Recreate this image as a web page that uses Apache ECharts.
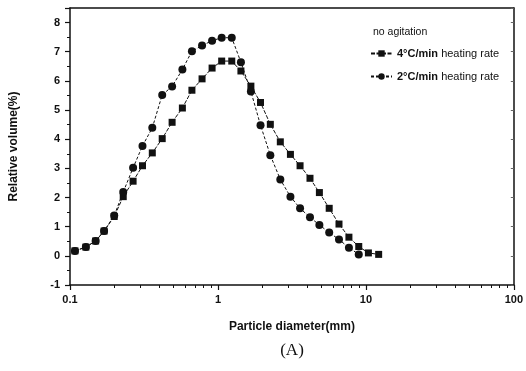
<!DOCTYPE html>
<html>
<head>
<meta charset="utf-8">
<script src="https://cdn.jsdelivr.net/npm/echarts@6/dist/echarts.min.js"></script>
<style>
  html, body { margin: 0; padding: 0; background: #fff; }
  #chart { width: 526px; height: 371px; }
</style>
</head>
<body>
<div id="chart"></div>
<script>
// particle diameter (mm), shared by both runs
const diameters = [0.108, 0.128, 0.149, 0.170, 0.199, 0.229, 0.267, 0.309, 0.360, 0.420,
  0.490, 0.575, 0.667, 0.781, 0.913, 1.06, 1.24, 1.43, 1.67, 1.94,
  2.26, 2.64, 3.09, 3.59, 4.19, 4.85, 5.65, 6.58, 7.68, 8.95, 10.4, 12.2]

// relative volume (%)
const rate4 = [0.17, 0.30, 0.51, 0.85, 1.35, 2.03, 2.56, 3.09, 3.53, 4.02,
  4.58, 5.07, 5.68, 6.07, 6.44, 6.68, 6.68, 6.34, 5.82, 5.26,
  4.51, 3.91, 3.48, 3.09, 2.66, 2.17, 1.63, 1.09, 0.64, 0.32, 0.10, 0.05]
const rate2 = [0.17, 0.30, 0.51, 0.85, 1.38, 2.19, 3.02, 3.77, 4.39, 5.52,
  5.81, 6.39, 7.02, 7.21, 7.38, 7.48, 7.48, 6.64, 5.64, 4.48,
  3.45, 2.62, 2.03, 1.63, 1.32, 1.06, 0.80, 0.56, 0.28, 0.05]

const seriesNames = ['4°C/min heating rate', '2°C/min heating rate']
const xMajorTicks = [0.1, 1, 10, 100]
const xMinorTicks = [0.2, 0.3, 0.4, 0.5, 0.6, 0.7, 0.8, 0.9,
  2, 3, 4, 5, 6, 7, 8, 9, 20, 30, 40, 50, 60, 70, 80, 90]

const pairs = (xs, ys) => ys.map((y, i) => [xs[i], y])

const font = 'Liberation Sans, Arial, sans-serif'
const ink = '#111'

const chart = echarts.init(document.getElementById('chart'))

chart.setOption({
  animation: false,
  backgroundColor: '#fff',
  textStyle: { fontFamily: font, color: ink },
  title: [
    {
      text: 'no agitation', left: 373, top: 27, padding: 0,
      textStyle: { fontSize: 10.5, fontWeight: 'normal', color: ink, fontFamily: font }
    },
    {
      text: '(A)', left: 292, top: 342, textAlign: 'center', padding: 0,
      textStyle: { fontSize: 17, fontWeight: 'normal', color: ink, fontFamily: 'Liberation Serif, DejaVu Serif, serif' }
    }
  ],
  legend: {
    orient: 'vertical',
    left: 370, top: 48, padding: 0,
    itemWidth: 21, itemHeight: 8, itemGap: 12,
    data: seriesNames,
    formatter: (name) => {
      const [rate, ...rest] = name.split(' ')
      return `{b|${rate}} ${rest.join(' ')}`
    },
    textStyle: {
      fontSize: 11, color: ink, fontFamily: font,
      rich: { b: { fontSize: 11, fontWeight: 'bold', color: ink, fontFamily: font } }
    }
  },
  grid: { left: 68, right: 10, top: 8, bottom: 86, containLabel: false },
  xAxis: [
    {
      type: 'log', logBase: 10, min: 0.1, max: 100,
      name: 'Particle diameter(mm)',
      nameLocation: 'middle', nameGap: 36,
      nameTextStyle: { fontSize: 12, fontWeight: 'bold', color: ink, fontFamily: font },
      axisLine: { onZero: false, lineStyle: { color: ink, width: 1.5 } },
      axisTick: { show: true, inside: false, length: 5, lineStyle: { color: ink, width: 1.2 }, customValues: xMajorTicks },
      axisLabel: { fontSize: 11, fontWeight: 'bold', color: ink, margin: 9, customValues: xMajorTicks,
        formatter: (v) => String(v) },
      splitLine: { show: false }
    },
    {
      // minor log ticks on the bottom edge
      type: 'log', logBase: 10, min: 0.1, max: 100, position: 'bottom',
      axisLine: { show: false, onZero: false },
      axisTick: { show: true, inside: false, length: 3, lineStyle: { color: ink, width: 1 }, customValues: xMinorTicks },
      axisLabel: { show: false },
      splitLine: { show: false }
    },
    {
      // top frame
      type: 'log', logBase: 10, min: 0.1, max: 100, position: 'top',
      axisLine: { show: true, onZero: false, lineStyle: { color: ink, width: 1.5 } },
      axisTick: { show: false },
      axisLabel: { show: false },
      splitLine: { show: false }
    }
  ],
  yAxis: [
    {
      type: 'value', min: -1, max: 8.5, interval: 1,
      name: 'Relative volume(%)',
      nameLocation: 'middle', nameGap: 50, nameRotate: 90,
      nameTextStyle: { fontSize: 12, fontWeight: 'bold', color: ink, fontFamily: font },
      axisLine: { show: true, onZero: false, lineStyle: { color: ink, width: 1.5 } },
      axisTick: { show: true, inside: false, length: 5, lineStyle: { color: ink, width: 1.2 } },
      minorTick: { show: true, splitNumber: 2, length: 3, lineStyle: { color: ink, width: 1 } },
      axisLabel: { fontSize: 11, fontWeight: 'bold', color: ink, margin: 10, showMaxLabel: false },
      splitLine: { show: false }
    },
    {
      // right frame
      type: 'value', min: -1, max: 8.5, interval: 1, position: 'right',
      axisLine: { show: true, onZero: false, lineStyle: { color: ink, width: 1.5 } },
      axisTick: { show: true, inside: true, length: 3, lineStyle: { color: '#666', width: 1 } },
      axisLabel: { show: false },
      splitLine: { show: false }
    }
  ],
  series: [
    {
      name: seriesNames[0],
      type: 'line',
      data: pairs(diameters, rate4),
      symbol: 'rect', symbolSize: 7,
      itemStyle: { color: ink },
      lineStyle: { color: ink, width: 1, type: [4, 1.5] },
      z: 3
    },
    {
      name: seriesNames[1],
      type: 'line',
      data: pairs(diameters, rate2),
      symbol: 'circle', symbolSize: 8,
      itemStyle: { color: ink },
      lineStyle: { color: ink, width: 1, type: [3, 2] },
      z: 4
    }
  ]
})
</script>
</body>
</html>
